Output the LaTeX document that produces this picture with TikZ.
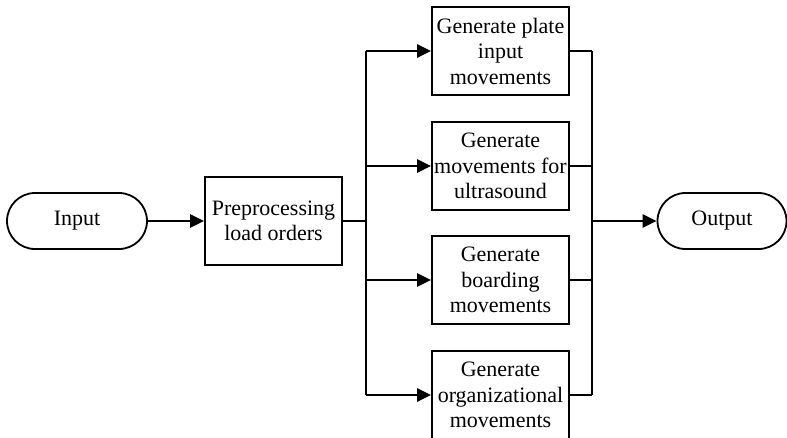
\documentclass[tikz,border=0pt]{standalone}
\usepackage{fontspec}
\setmainfont{Liberation Serif}
\usetikzlibrary{arrows.meta}

\tikzset{
    terminal/.style={draw, line width=1.8pt, rounded corners=28pt, minimum width=140pt, minimum height=56pt, font=\fontsize{22}{26}\selectfont},
    stepbox/.style={draw, line width=1.8pt, minimum width=137pt, minimum height=88pt, align=center, inner sep=2pt, font=\fontsize{22}{25.5}\selectfont},
    link/.style={line width=2.6pt},
    arr/.style={link, -{Triangle[length=14pt, width=13pt]}}
}

\begin{document}
\begin{tikzpicture}[x=1pt, y=-1pt]
    \useasboundingbox (0,0) rectangle (787,437);
    \begin{scope}
    \clip (0,0) rectangle (787,437);

    % Start and end
    \node[terminal] (input) at (77,221) {Input};
    \node[terminal, minimum width=129pt] (output) at (722,221) {Output};

    % Preprocessing
    \node[stepbox] (preproc) at (273.5,221) {Preprocessing\\load orders};

    % Parallel generators
    \node[stepbox] (platein) at (500.5,51) {Generate plate\\input\\movements};
    \node[stepbox] (ultra) at (500.5,166) {Generate\\movements for\\ultrasound};
    \node[stepbox] (boarding) at (500.5,280) {Generate\\boarding\\movements};
    \node[stepbox] (organ) at (500.5,395) {Generate\\organizational\\movements};

    % Junctions
    \coordinate (split) at (366,221);
    \coordinate (merge) at (592,221);

    % Connectors
    \draw[arr] (input) -- (preproc);
    \draw[link] (preproc) -- (split);
    \draw[link] (split |- platein) -- (split |- organ);
    \foreach \n in {platein, ultra, boarding, organ} {
        \draw[arr] (split |- \n) -- (\n.west);
        \draw[link] (\n.east) -- (merge |- \n);
    }
    \draw[link] (merge |- platein) -- (merge |- organ);
    \draw[arr] (merge) -- (output);
    \end{scope}
\end{tikzpicture}
\end{document}
